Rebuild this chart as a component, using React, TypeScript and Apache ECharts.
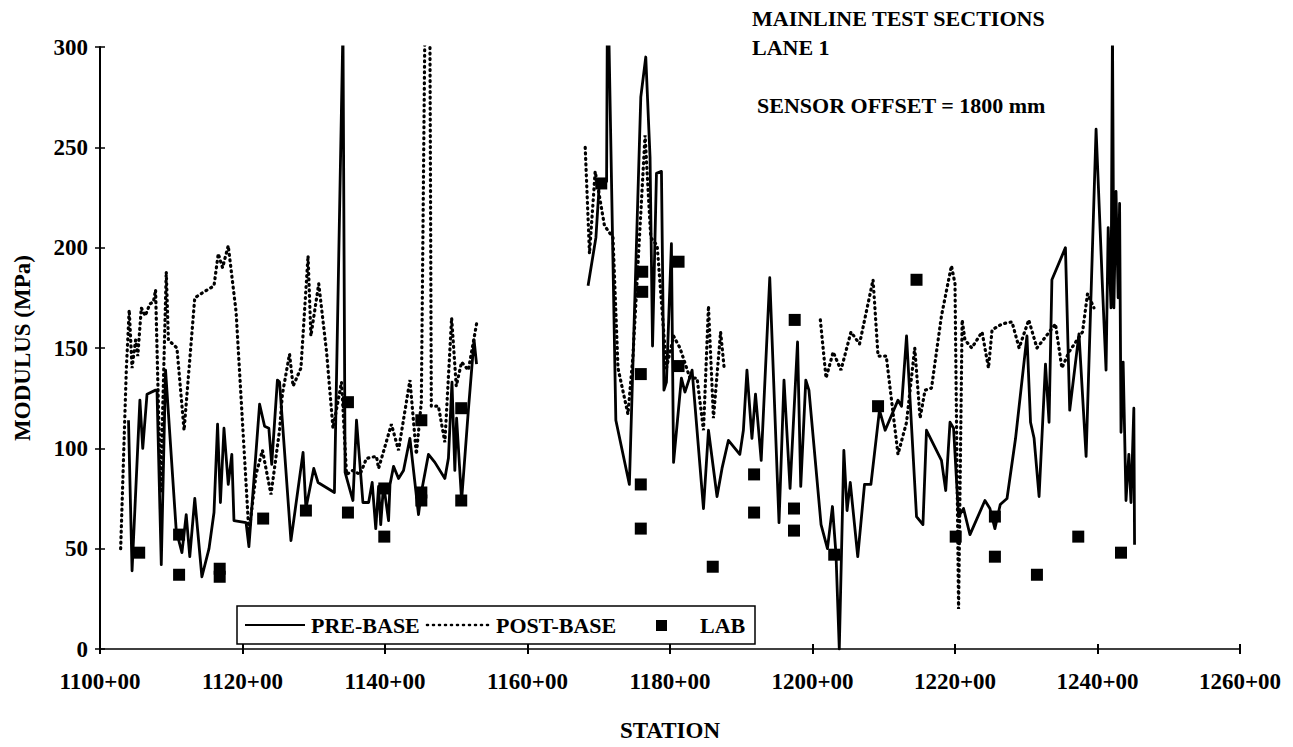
import React, { useEffect, useRef } from "react";
import * as echarts from "echarts";

// ---- data (station in hundreds, modulus in MPa) ----
const preStation = [
  1104.0, 1104.5, 1105.6, 1106.0, 1106.6, 1107.8, 1108.0, 1108.6, 1109.2, 1110.7,
  1111.5, 1112.1, 1112.6, 1113.3, 1114.3, 1115.3, 1116.0, 1116.5, 1116.9, 1117.4,
  1118.0, 1118.5, 1118.8, 1120.5, 1120.9, 1122.4, 1123.1, 1123.7, 1124.1, 1124.9,
  1125.2, 1126.8, 1128.5, 1128.9, 1130.0, 1130.6, 1132.9, 1134.1, 1134.4, 1135.5,
  1136.0, 1136.9, 1137.7, 1138.2, 1138.7, 1139.1, 1139.4, 1139.8, 1140.5, 1140.7,
  1141.2, 1141.9, 1142.6, 1143.5, 1144.7, 1145.1, 1146.1, 1147.0, 1148.4, 1148.9,
  1149.4, 1149.8, 1150.05, 1150.75, 1151.7, 1152.5, 1152.85,
  1160.0,
  1168.5, 1169.6, 1170.1, 1171.1, 1171.2, 1171.4, 1172.4, 1174.3, 1175.9, 1176.6,
  1177.2, 1177.55, 1178.1, 1178.8, 1179.15, 1179.5, 1180.2, 1180.5, 1181.6, 1182.1,
  1183.1, 1184.7, 1185.4, 1186.6, 1187.3, 1188.2, 1189.8, 1190.3, 1190.8, 1191.5,
  1192.0, 1192.8, 1194.0, 1195.3, 1196.0, 1196.85, 1197.9, 1198.35, 1199.06, 1199.5,
  1201.2, 1202.1, 1202.8, 1203.3, 1203.76, 1204.4, 1204.85, 1205.3, 1206.35, 1207.3,
  1208.2, 1209.4, 1210.2, 1212.0, 1212.5, 1213.2, 1214.6, 1215.5, 1216.0, 1218.1,
  1218.7, 1219.3, 1219.8, 1220.5, 1221.2, 1222.1, 1224.2, 1224.9, 1225.6, 1226.35,
  1227.3, 1228.5, 1230.1, 1230.6, 1231.1, 1231.8, 1232.7, 1233.2, 1233.6, 1235.5,
  1236.1, 1237.4, 1238.4, 1239.8, 1240.7, 1241.2, 1241.5, 1241.9, 1242.1, 1242.3,
  1242.6, 1242.9, 1243.1, 1243.3, 1243.6, 1244.0, 1244.4, 1244.7, 1245.1, 1245.2,
];
const preModulus = [
  114, 39, 124, 100, 127, 129, 129, 42, 139, 59,
  48, 67, 46, 75, 36, 50, 68, 112, 73, 110,
  82, 97, 64, 63, 51, 122, 111, 110, 92, 134,
  133, 54, 98, 70, 90, 83, 78, 310, 88, 74,
  114, 73, 73, 83, 60, 81, 62, 82, 64, 82,
  91, 85, 89, 105, 67, 78, 97, 93, 85, 95,
  133, 89, 115, 74, 119, 154, 142,
  null,
  181, 205, 233, 233, 310, 310, 114, 82, 275, 295,
  245, 151, 237, 238, 129, 133, 202, 93, 135, 128,
  139, 70, 109, 76, 90, 104, 97, 109, 139, 105,
  127, 94, 185, 63, 134, 80, 153, 81, 134, 129,
  62, 50, 71, 47, 0, 99, 69, 83, 46, 82,
  82, 119, 109, 124, 121, 156, 66, 62, 109, 94,
  79, 113, 110, 66, 70, 57, 74, 70, 60, 72,
  75, 105, 156, 113, 105, 76, 142, 113, 184, 200,
  119, 157, 96, 259, 180, 139, 210, 170, 310, 170,
  228, 175, 222, 108, 143, 74, 97, 73, 120, 52,
];

const postStation = [
  1102.9, 1103.7, 1104.1, 1104.5, 1105.0, 1105.3, 1105.8, 1106.35, 1107.0, 1107.5,
  1107.8, 1108.5, 1109.3, 1109.6, 1110.8, 1111.8, 1113.3, 1114.6, 1116.0, 1116.6,
  1117.2, 1118.0, 1119.1, 1120.9, 1121.9, 1122.8, 1124.0, 1125.2, 1125.6, 1126.6,
  1127.1, 1128.2, 1129.2, 1129.6, 1130.7, 1131.8, 1132.7, 1133.9, 1134.6, 1135.5,
  1136.5, 1137.4, 1138.8, 1139.1, 1140.9, 1141.9, 1143.5, 1144.4, 1145.1, 1145.6,
  1146.3, 1146.5, 1147.5, 1148.4, 1149.35, 1150.0, 1150.75, 1151.7, 1152.85,
  1160.0,
  1168.1, 1168.7, 1169.5, 1170.8, 1172.0, 1172.7, 1174.1, 1174.8, 1176.5, 1177.3,
  1178.2, 1179.5, 1180.5, 1181.4, 1182.8, 1183.8, 1184.7, 1185.4, 1186.1, 1187.1,
  1187.6,
  1194.0,
  1201.1, 1201.9, 1202.9, 1204.0, 1205.4, 1206.6, 1208.5, 1209.2, 1210.35, 1212.0,
  1213.2, 1214.35, 1215.1, 1215.8, 1216.7, 1218.1, 1219.5, 1220.0, 1220.5, 1221.0,
  1221.4, 1222.35, 1223.8, 1224.7, 1225.2, 1226.6, 1228.0, 1229.0, 1230.35, 1231.5,
  1234.1, 1235.0, 1236.0, 1237.9, 1238.6, 1239.5,
];
const postModulus = [
  50, 140, 169, 140, 154, 146, 170, 166, 172, 173,
  179, 78, 188, 154, 150, 109, 175, 178, 181, 197,
  190, 201, 168, 58, 87, 99, 77, 109, 127, 147,
  131, 140, 196, 156, 182, 148, 110, 133, 87, 89,
  87, 95, 96, 90, 112, 99, 134, 97, 123, 310,
  310, 121, 121, 103, 165, 131, 143, 139, 162,
  null,
  250, 197, 238, 211, 205, 140, 117, 146, 256, 205,
  201, 140, 156, 150, 135, 135, 109, 171, 115, 158,
  140,
  null,
  164, 135, 148, 139, 158, 152, 184, 146, 146, 97,
  113, 150, 115, 129, 130, 166, 191, 182, 20, 164,
  154, 150, 158, 140, 159, 162, 163, 150, 164, 150,
  162, 140, 148, 158, 177, 170,
];

const labStation = [
  1105.5, 1111.1, 1111.1, 1116.8, 1116.8, 1122.9, 1128.9, 1134.8, 1134.8, 1139.9,
  1139.9, 1145.1, 1145.1, 1145.1, 1150.7, 1150.7, 1170.35, 1176.1, 1176.1, 1175.9,
  1175.9, 1175.9, 1181.2, 1181.2, 1186.0, 1191.8, 1191.8, 1197.5, 1197.4, 1197.4,
  1203.05, 1209.2, 1214.6, 1220.1, 1225.6, 1225.6, 1231.5, 1237.3, 1243.3,
];
const labModulus = [
  48, 37, 57, 40, 36, 65, 69, 68, 123, 56,
  80, 78, 74, 114, 120, 74, 232, 188, 178, 137,
  82, 60, 193, 141, 41, 87, 68, 164, 70, 59,
  47, 121, 184, 56, 66, 46, 37, 56, 48,
];

const seriesNames = ["PRE-BASE", "POST-BASE", "LAB"];
const annotationLines = ["MAINLINE TEST SECTIONS", "LANE 1", "SENSOR OFFSET = 1800 mm"];

const pair = (xs: number[], ys: (number | null)[]) =>
  xs.map((x, i) => [x, ys[i] === null ? "-" : ys[i]]);

const FONT = "'Liberation Serif', 'Times New Roman', serif";

export default function App() {
  const ref = useRef<HTMLDivElement>(null);

  useEffect(() => {
    document.body.style.margin = "0";
    if (!ref.current) return;
    const chart = echarts.init(ref.current, null, { renderer: "svg" });

    const tickLabel = { fontFamily: FONT, fontSize: 23, fontWeight: "bold", color: "#000" };
    const nameStyle = { fontFamily: FONT, fontSize: 23, fontWeight: "bold", color: "#000" };
    const legendFont = `bold 22px ${FONT}`;
    const annFont = `bold 22px ${FONT}`;

    chart.setOption({
      animation: false,
      backgroundColor: "#fff",
      grid: { left: 100, right: 53, top: 47, bottom: 89, containLabel: false },
      xAxis: [
        {
          type: "value",
          min: 1100,
          max: 1260,
          interval: 20,
          name: "STATION",
          nameLocation: "middle",
          nameGap: 70,
          nameTextStyle: nameStyle,
          axisLine: { lineStyle: { color: "#000", width: 1.5 } },
          axisTick: { show: true, length: 5, lineStyle: { color: "#000", width: 2 } },
          axisLabel: { ...tickLabel, margin: 21, formatter: (v: number) => `${v}+00` },
          splitLine: { show: false },
        },
        {
          type: "value",
          position: "bottom",
          min: 1100,
          max: 1260,
          interval: 20,
          axisLine: { show: false },
          axisTick: { show: true, inside: true, length: 5, lineStyle: { color: "#000", width: 2 } },
          axisLabel: { show: false },
          splitLine: { show: false },
        },
      ],
      yAxis: [
        {
          type: "value",
          min: 0,
          max: 300,
          interval: 50,
          name: "MODULUS (MPa)",
          nameLocation: "middle",
          nameGap: 66,
          nameTextStyle: nameStyle,
          axisLine: { show: true, lineStyle: { color: "#000", width: 2 } },
          axisTick: { show: true, length: 5, lineStyle: { color: "#000", width: 1.5 } },
          axisLabel: { ...tickLabel, margin: 12 },
          splitLine: { show: false },
        },
        {
          type: "value",
          position: "left",
          min: 0,
          max: 300,
          interval: 50,
          axisLine: { show: false },
          axisTick: { show: true, inside: true, length: 5, lineStyle: { color: "#000", width: 1.5 } },
          axisLabel: { show: false },
          splitLine: { show: false },
        },
      ],
      legend: { show: false },
      graphic: [
        // annotation block
        { type: "text", left: 752, top: 7, style: { text: annotationLines[0], font: annFont, fill: "#000" } },
        { type: "text", left: 752, top: 36, style: { text: annotationLines[1], font: annFont, fill: "#000" } },
        { type: "text", left: 757, top: 94, style: { text: annotationLines[2], font: annFont, fill: "#000" } },
        // legend box
        {
          type: "rect",
          shape: { x: 237, y: 606, width: 518, height: 38 },
          style: { fill: "#fff", stroke: "#000", lineWidth: 1.5 },
          z: 10,
        },
        {
          type: "line",
          shape: { x1: 245, y1: 625, x2: 305, y2: 625 },
          style: { stroke: "#000", lineWidth: 2.2 },
          z: 11,
        },
        {
          type: "text",
          x: 311,
          y: 625,
          style: { text: seriesNames[0], font: legendFont, fill: "#000", textVerticalAlign: "middle" },
          z: 11,
        },
        {
          type: "line",
          shape: { x1: 427, y1: 625, x2: 491, y2: 625 },
          style: { stroke: "#000", lineWidth: 2.6, lineDash: [1, 5], lineCap: "round" },
          z: 11,
        },
        {
          type: "text",
          x: 496,
          y: 625,
          style: { text: seriesNames[1], font: legendFont, fill: "#000", textVerticalAlign: "middle" },
          z: 11,
        },
        {
          type: "rect",
          shape: { x: 656, y: 620, width: 11, height: 11 },
          style: { fill: "#000" },
          z: 11,
        },
        {
          type: "text",
          x: 700,
          y: 625,
          style: { text: seriesNames[2], font: legendFont, fill: "#000", textVerticalAlign: "middle" },
          z: 11,
        },
      ],
      series: [
        {
          name: seriesNames[0],
          type: "line",
          xAxisIndex: 0,
          yAxisIndex: 0,
          data: pair(preStation, preModulus),
          showSymbol: false,
          symbol: "none",
          connectNulls: false,
          clip: true,
          lineStyle: { color: "#000", width: 2.8, join: "round" },
          itemStyle: { color: "#000" },
          z: 3,
        },
        {
          name: seriesNames[1],
          type: "line",
          xAxisIndex: 0,
          yAxisIndex: 0,
          data: pair(postStation, postModulus),
          showSymbol: false,
          symbol: "none",
          connectNulls: false,
          clip: true,
          lineStyle: { color: "#000", width: 3.2, type: [1, 4.5], cap: "round" },
          itemStyle: { color: "#000" },
          z: 2,
        },
        {
          name: seriesNames[2],
          type: "scatter",
          xAxisIndex: 0,
          yAxisIndex: 0,
          data: pair(labStation, labModulus),
          symbol: "rect",
          symbolSize: 12,
          itemStyle: { color: "#000", opacity: 1 },
          z: 4,
        },
      ],
    });

    return () => chart.dispose();
  }, []);

  return (
    <div
      ref={ref}
      style={{ position: "fixed", left: 0, top: 0, width: 1293, height: 747 }}
    />
  );
}
